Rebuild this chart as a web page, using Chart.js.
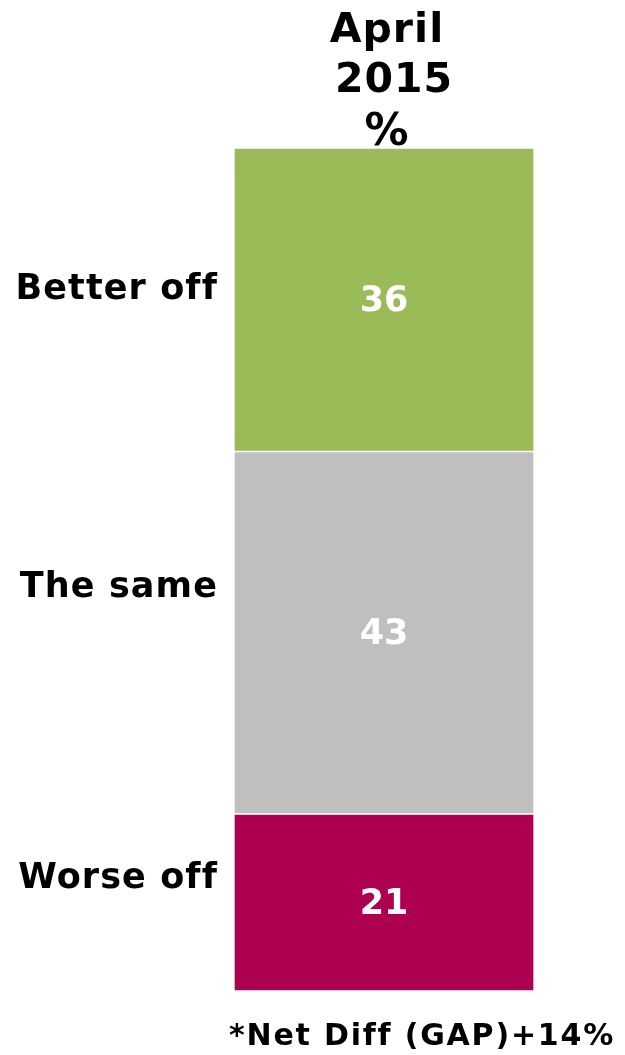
<!DOCTYPE html>
<html>
<head>
<meta charset="utf-8">
<script src="https://cdn.jsdelivr.net/npm/chart.js@4"></script>
<style>
  html, body { margin: 0; padding: 0; background: #fff; }
  #wrap { position: relative; width: 625px; height: 1055px; font-family: "DejaVu Sans", Verdana, sans-serif; font-weight: bold; color: #000; }
  #wrap canvas { position: absolute; left: 0; top: 0; }
  .txt { position: absolute; white-space: nowrap; }
  .cat { right: 407px; font-size: 35px; line-height: 1; letter-spacing: 1.1px; }
  .head { width: 200px; text-align: center; font-size: 41px; line-height: 1; letter-spacing: 1px; }
</style>
</head>
<body>
<div id="wrap">
  <canvas id="gapChart" width="625" height="1055"></canvas>
  <div class="txt head" style="left: 287px; top: 8px;">April</div>
  <div class="txt head" style="left: 294px; top: 58px;">2015</div>
  <div class="txt head" style="left: 287px; top: 108px; font-size: 44px;">%</div>
  <div class="txt cat" style="top: 270px;">Better off</div>
  <div class="txt cat" style="top: 568px;">The same</div>
  <div class="txt cat" style="top: 859px;">Worse off</div>
  <div class="txt" style="left: 229px; top: 1017px; font-size: 30px; letter-spacing: 1.8px;">*Net Diff (GAP)+14%</div>
</div>
<script>
const periods = ['April 2015']
const answers = ['Better off', 'The same', 'Worse off']
const shares = [36, 43, 21]
const answerColours = ['#9bbb59', '#bfbfbf', '#ad0050']

let gapDataSets = []
for (let i = 0; i < answers.length; i++) {
  gapDataSets.push(
    {
      label: answers[i],
      data: [shares[i]],
      backgroundColor: answerColours[i],
      borderColor: '#ffffff',
      borderWidth: 1,
      borderSkipped: false,
      barPercentage: 1,
      categoryPercentage: 1
    }
  )
}

// write the value in the middle of each segment
const valueLabels = {
  id: 'valueLabels',
  afterDatasetsDraw(chart) {
    const ctx = chart.ctx
    ctx.save()
    ctx.fillStyle = '#ffffff'
    ctx.font = 'bold 35px "DejaVu Sans"'
    ctx.textAlign = 'center'
    ctx.textBaseline = 'middle'
    chart.data.datasets.forEach(function (ds, i) {
      const bar = chart.getDatasetMeta(i).data[0]
      ctx.fillText(ds.data[0].toString(), bar.x, (bar.y + bar.base) / 2 + 2)
    })
    ctx.restore()
  }
}

const gapChart = new Chart(
  document.getElementById('gapChart').getContext('2d'),
  {
    type: 'bar',
    data: {labels: periods, datasets: gapDataSets.slice().reverse()},
    options: {
      responsive: false,
      animation: false,
      layout: {padding: {left: 234, right: 91, top: 148, bottom: 64}},
      plugins: {legend: {display: false}, tooltip: {enabled: false}},
      scales: {
        x: {stacked: true, display: false},
        y: {stacked: true, display: false, min: 0, max: 100}
      }
    },
    plugins: [valueLabels]
  }
)
</script>
</body>
</html>
